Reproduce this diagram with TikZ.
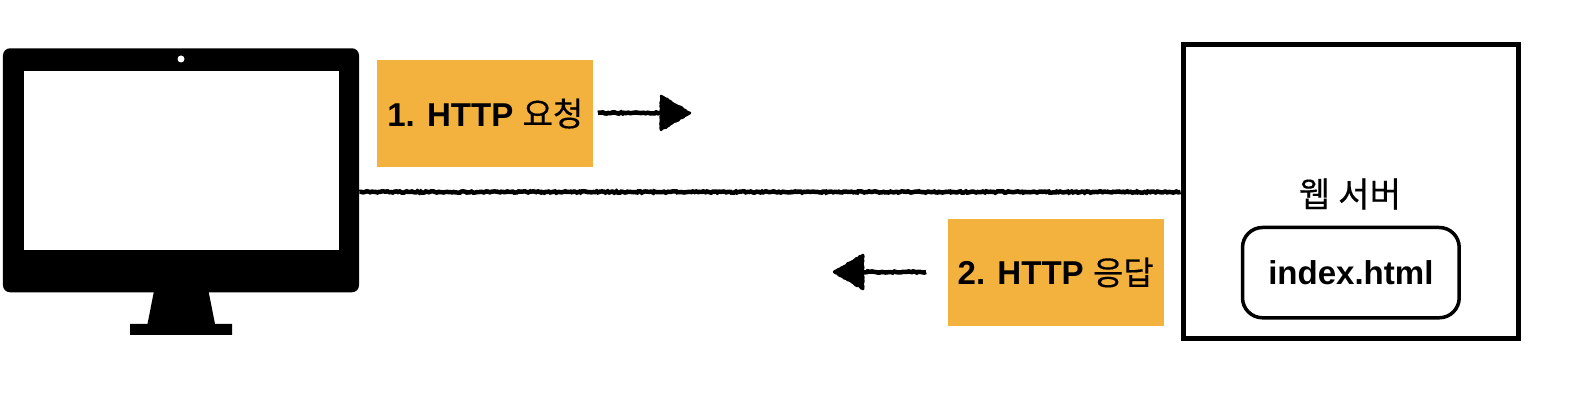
\documentclass[tikz,border=0pt]{standalone}
\usepackage{fontspec}
\usepackage{xcolor}
\setmainfont{Liberation Sans}
\newfontfamily\kofont[FakeBold=0.3]{Noto Sans CJK KR}
\definecolor{boxorange}{RGB}{243,177,61}
\usetikzlibrary{arrows.meta, decorations.pathmorphing}
\tikzset{
  msgbox/.style={fill=boxorange, minimum width=4.32cm, minimum height=2.14cm, inner sep=0pt, font=\fontsize{18.8pt}{22pt}\selectfont\bfseries},
  rough/.style={line width=0.09cm, decorate, decoration={random steps, segment length=1pt, amplitude=0.4pt}},
  cleantip/.style={line width=0.07cm, -{Triangle[length=0.58cm, width=0.68cm]}},
  roughhead/.style={fill=black, line width=0.05cm, line join=round, decorate, decoration={random steps, segment length=1pt, amplitude=0.35pt}}
}
\begin{document}
\begin{tikzpicture}
      \pgfmathsetseed{7}
      \useasboundingbox (0,0) rectangle (31.52,8.24);
      % Monitor figure
      \node[fill=black, rounded corners=0.14cm, minimum width=7.12cm, minimum height=4.88cm, inner sep=0pt] (monitor) at (3.62,4.834) {};
      \node[fill=white, minimum width=6.29cm, minimum height=3.58cm, inner sep=0pt] (screen) at (3.625,5.024) {};
      \fill[white] (3.62,7.06) circle (0.07);
      \fill[black] (3.08,2.42) -- (4.17,2.42) -- (4.30,1.76) -- (4.64,1.76) -- (4.64,1.54) -- (2.60,1.54) -- (2.60,1.76) -- (2.95,1.76) -- cycle;
      % Web server box
      \node[draw, line width=0.1cm, minimum width=6.71cm, minimum height=5.88cm, inner sep=0pt] (server) at (27.016,4.40) {};
      \node[font=\fontsize{19.5pt}{22pt}\selectfont\kofont] (servername) at (27.0,4.36) {웹 서버};
      \node[draw, line width=0.07cm, rounded corners=0.4cm, minimum width=4.334cm, minimum height=1.806cm, inner sep=0pt, font=\fontsize{18.8pt}{22pt}\selectfont\bfseries] (indexfile) at (27.017,2.787) {index.html};
      % Connection line
      \draw[rough] (monitor.east |- server.west) -- (server.west);
      % Request label and arrow
      \node[msgbox] (reqbox) at (9.706,5.968) {1. HTTP {\mdseries\kofont 요청}};
      \coordinate (reqstart) at (11.96,5.98);
      \coordinate (reqend) at (13.80,5.98);
      \coordinate (reqbase) at (13.25,5.98);
      \draw[cleantip] (reqstart) -- (reqend);
      \draw[rough] (reqstart) -- (reqbase);
      \draw[roughhead] (reqend) -- ++(-0.58,0.34) -- ++(0,-0.68) -- cycle;
      % Response label and arrow
      \node[msgbox] (resbox) at (21.114,2.79) {2. HTTP {\mdseries\kofont 응답}};
      \coordinate (resstart) at (18.52,2.80);
      \coordinate (resend) at (16.68,2.80);
      \coordinate (resbase) at (17.23,2.80);
      \draw[cleantip] (resstart) -- (resend);
      \draw[rough] (resstart) -- (resbase);
      \draw[roughhead] (resend) -- ++(0.58,0.34) -- ++(0,-0.68) -- cycle;
    \end{tikzpicture}
\end{document}
